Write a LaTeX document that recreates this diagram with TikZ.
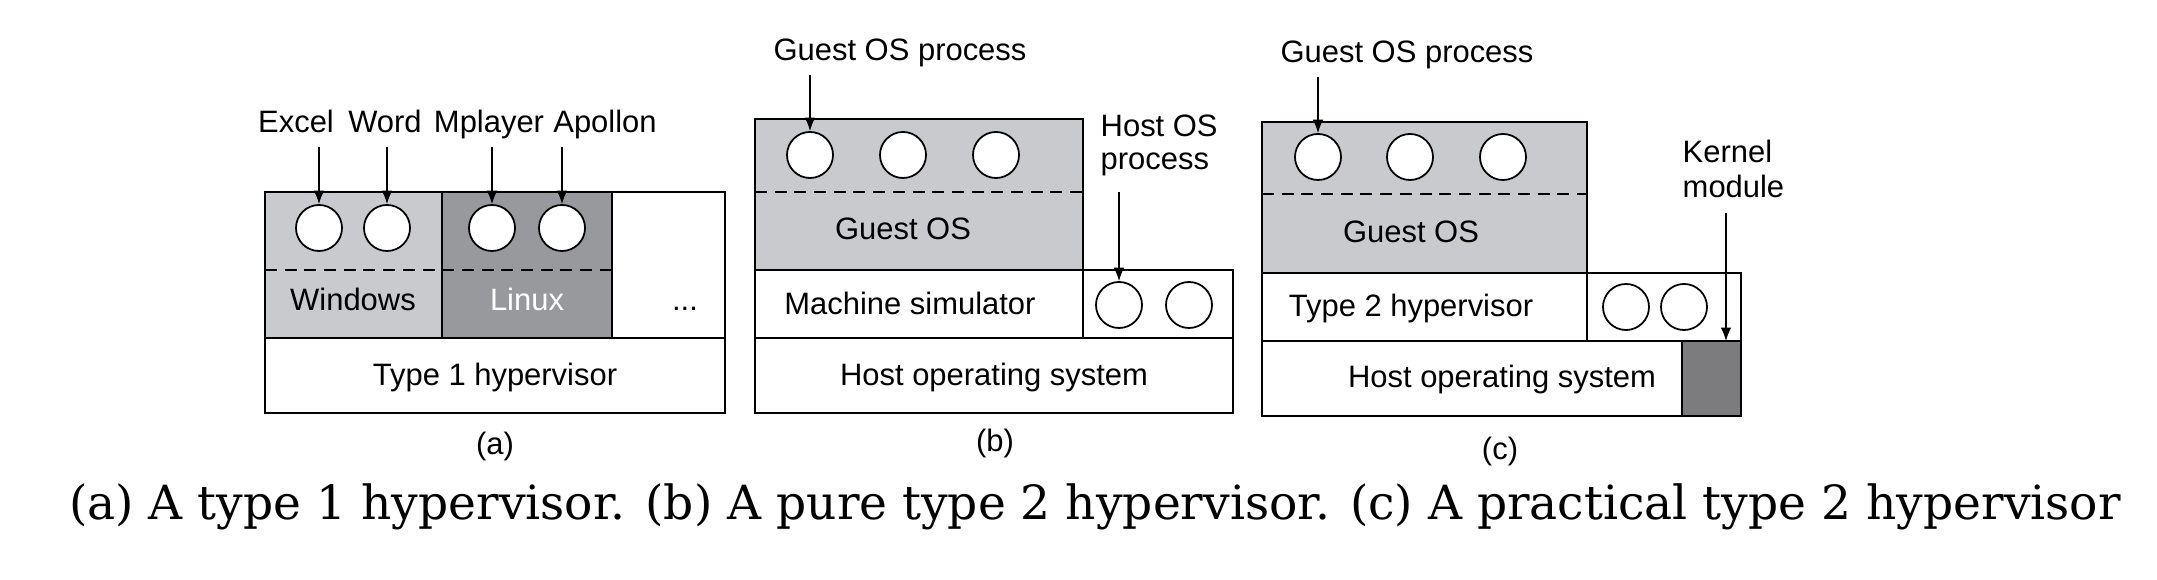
\documentclass[tikz,border=0pt]{standalone}
\usepackage{fontspec}
\setmainfont{Liberation Sans}
\newfontfamily\capfont{DejaVu Serif}
\usetikzlibrary{arrows.meta}
\definecolor{osgray}{RGB}{201,202,206}
\definecolor{linuxgray}{RGB}{152,153,157}
\definecolor{kmodgray}{RGB}{124,124,127}

\begin{document}
\begin{tikzpicture}[x=0.01cm,y=-0.01cm,
    every node/.style={font=\fontsize{8.8}{9.6}\selectfont},
    layer/.style={draw,line width=0.6pt},
    sep/.style={line width=0.5pt,dash pattern=on 3.4pt off 2.2pt},
    proc/.style={circle,draw,fill=white,line width=0.5pt,minimum size=0.46cm,inner sep=0pt},
    txt/.style={anchor=base},
    tag/.style={anchor=base,text depth=0pt,inner sep=3.8pt},
    >={Latex[length=3.8pt,width=3pt]}]
  \useasboundingbox (0,0) rectangle (2157,580);

  \draw[layer,fill=osgray] (265,192) rectangle (442,338);
  \draw[layer,fill=linuxgray] (442,192) rectangle (612,338);
  \draw[layer] (612,192) rectangle (725,338);
  \draw[layer] (265,338) rectangle (725,413);
  \draw[sep] (265,270) -- (612,270);
  \node[proc] (excelp) at (319,228) {};
  \node[proc] (wordp) at (387,228) {};
  \node[proc] (mplayerp) at (492,228) {};
  \node[proc] (apollonp) at (562,228) {};
  \node[tag] (excel) at (296,133) {Excel};
  \node[tag] (word) at (385,133) {Word};
  \node[tag] (mplayer) at (489,133) {Mplayer};
  \node[tag] (apollon) at (605,133) {Apollon};
  \draw[->] (excelp |- excel.south) -- (excelp);
  \draw[->] (wordp |- word.south) -- (wordp);
  \draw[->] (mplayerp |- mplayer.south) -- (mplayerp);
  \draw[->] (apollonp |- apollon.south) -- (apollonp);
  \node[txt] (win) at (353,311) {Windows};
  \node[txt,text=white] (lin) at (527,311) {Linux};
  \node[txt] (more) at (685,311) {...};
  \node[txt] (hyp1) at (495,386) {Type 1 hypervisor};
  \node[txt] (la) at (495,455) {(a)};

  \draw[layer,fill=osgray] (755,119) rectangle (1083,270);
  \draw[sep] (755,192) -- (1083,192);
  \draw[layer] (755,270) rectangle (1083,338);
  \draw[layer] (1083,270) rectangle (1233,338);
  \draw[layer] (755,338) rectangle (1233,413);
  \node[proc] (gpb1) at (810,155) {};
  \node[proc] (gpb2) at (903,155) {};
  \node[proc] (gpb3) at (996,155) {};
  \node[proc] (hpb1) at (1119,305) {};
  \node[proc] (hpb2) at (1189,305) {};
  \node[tag] (gprocb) at (900,61) {Guest OS process};
  \node[tag,anchor=base west,align=left,inner sep=0pt] (hprocb) at (1100,170) {Host OS\\process};
  \draw[->] (gpb1 |- gprocb.south) -- (gpb1);
  \draw[->,shorten <=6.2pt] (hpb1 |- hprocb.south) -- (hpb1);
  \node[txt] (gosb) at (903,240) {Guest OS};
  \node[txt] (msim) at (910,315) {Machine simulator};
  \node[txt] (hosb) at (994,386) {Host operating system};
  \node[txt] (lb) at (995,452) {(b)};

  \draw[layer,fill=osgray] (1262,122) rectangle (1587,273);
  \draw[sep] (1262,194) -- (1587,194);
  \draw[layer] (1262,273) rectangle (1587,341);
  \draw[layer] (1587,273) rectangle (1741,341);
  \draw[layer] (1262,341) rectangle (1741,416);
  \draw[layer,fill=kmodgray] (1682,341) rectangle (1741,416);
  \coordinate (ktop) at (1726,341);
  \node[proc] (gpc1) at (1318,157) {};
  \node[proc] (gpc2) at (1410,157) {};
  \node[proc] (gpc3) at (1503,157) {};
  \node[proc] (hpc1) at (1626,307) {};
  \node[proc] (hpc2) at (1684,307) {};
  \node[tag] (gprocc) at (1407,63) {Guest OS process};
  \node[tag,anchor=base west,align=left,inner sep=0pt,font=\fontsize{8.8}{10.2}\selectfont] (kmod) at (1682,198) {Kernel\\module};
  \draw[->] (gpc1 |- gprocc.south) -- (gpc1);
  \draw[->,shorten <=4pt] (ktop |- kmod.south) -- (ktop);
  \node[txt] (gosc) at (1411,243) {Guest OS};
  \node[txt] (hyp2) at (1411,317) {Type 2 hypervisor};
  \node[txt] (hosc) at (1502,388) {Host operating system};
  \node[txt] (lc) at (1500,460) {(c)};

  \node[anchor=base,font=\capfont\fontsize{13.4}{15}\selectfont] (caption) at (1095,520)
    {(a) A type 1 hypervisor. (b) A pure type 2 hypervisor. (c) A practical type 2 hypervisor};
\end{tikzpicture}
\end{document}
